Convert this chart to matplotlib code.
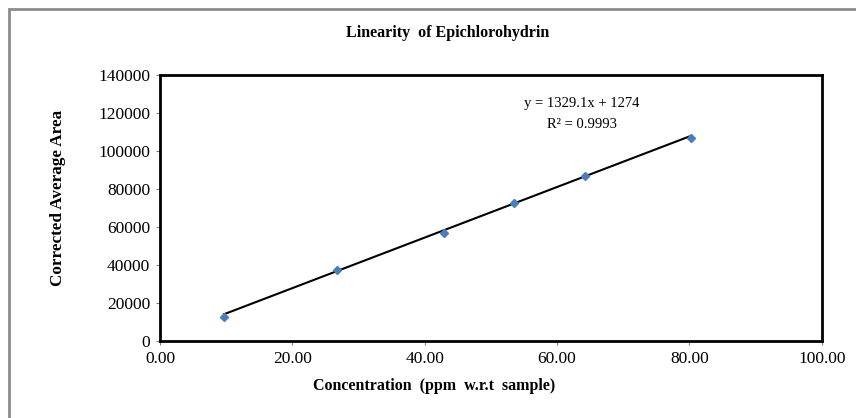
import matplotlib
matplotlib.use("Agg")
import matplotlib.pyplot as plt
import numpy as np
from matplotlib.patches import Rectangle

conc = [9.66, 26.8, 42.9, 53.5, 64.2, 80.2]
area = [12900, 37250, 56700, 72400, 87000, 107000]
slope = 1329.1
intercept = 1274
x_ticks = [0, 20, 40, 60, 80, 100]
y_ticks = [0, 20000, 40000, 60000, 80000, 100000, 120000, 140000]

plt.rcParams["font.family"] = ["Liberation Serif", "DejaVu Serif"]

fig = plt.figure(figsize=(8.56, 4.18), dpi=100)
ax = fig.add_axes([0.187, 0.184, 0.773, 0.637])

# chart-area border (only top and left visible)
fig.patches.append(Rectangle((9 / 856, -0.1), 1.2, 1 - 9 / 418 + 0.1,
                             transform=fig.transFigure, fill=False,
                             edgecolor="#8c8c8c", linewidth=2))

fit_x = np.array([min(conc), max(conc)])
ax.plot(fit_x, slope * fit_x + intercept, color="black", linewidth=1.5, zorder=2)
ax.plot(conc, area, linestyle="none", marker="D", markersize=4.5,
        color="#4a7ebb", zorder=3)

ax.set_xlim(0, 100)
ax.set_ylim(0, 140000)
ax.set_xticks(x_ticks)
ax.set_xticklabels(["{:.2f}".format(v) for v in x_ticks])
ax.set_yticks(y_ticks)
ax.set_yticklabels([str(v) for v in y_ticks])
ax.tick_params(direction="out", length=3, width=0.8, labelsize=12.5,
               color="#808080", pad=4)
for sp in ax.spines.values():
    sp.set_linewidth(2)
    sp.set_color("black")

fig.text(582 / 856, 1 - 104 / 418, "y = 1329.1x + 1274",
         ha="center", va="center", fontsize=10.5)
fig.text(582 / 856, 1 - 124 / 418, "R² = 0.9993",
         ha="center", va="center", fontsize=10.5)

fig.text(448 / 856, 1 - 33 / 418, "Linearity  of Epichlorohydrin",
         ha="center", va="center", fontsize=11.5, fontweight="bold")
fig.text(434 / 856, 1 - 386 / 418, "Concentration  (ppm  w.r.t  sample)",
         ha="center", va="center", fontsize=11.5, fontweight="bold")
fig.text(58 / 856, 1 - 198 / 418, "Corrected Average Area", rotation=90,
         ha="center", va="center", fontsize=12.3, fontweight="bold")

fig.savefig("out.png", dpi=100)
